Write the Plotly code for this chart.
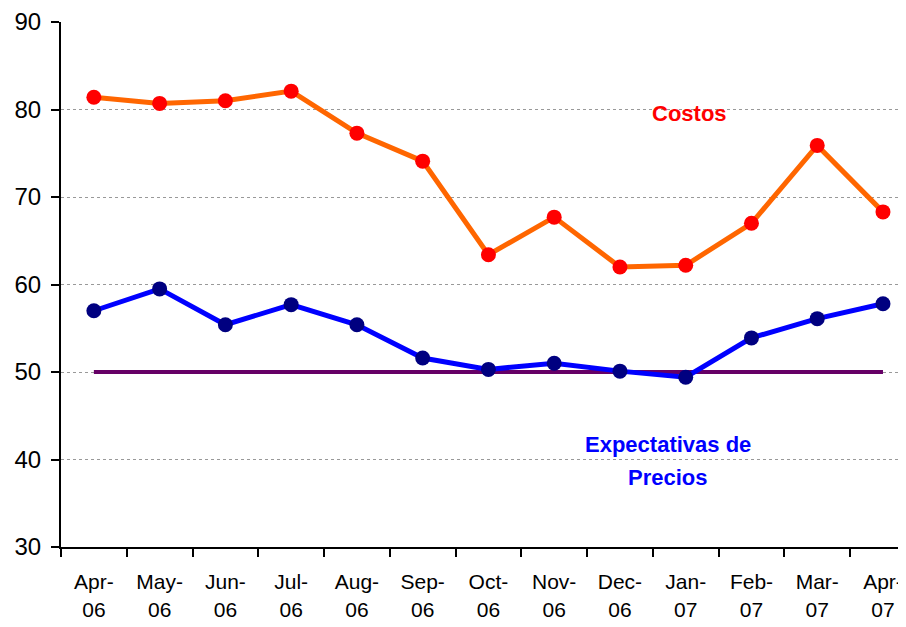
import plotly.graph_objects as go

months = ["Apr-<br>06", "May-<br>06", "Jun-<br>06", "Jul-<br>06", "Aug-<br>06", "Sep-<br>06",
          "Oct-<br>06", "Nov-<br>06", "Dec-<br>06", "Jan-<br>07", "Feb-<br>07", "Mar-<br>07", "Apr-<br>07"]
costos = [81.4, 80.7, 81.0, 82.1, 77.3, 74.1, 63.4, 67.7, 62.0, 62.2, 67.0, 75.9, 68.3]
expectativas = [57.0, 59.5, 55.4, 57.7, 55.4, 51.6, 50.3, 51.0, 50.1, 49.4, 53.9, 56.1, 57.8]
neutral = [50] * 13

fig = go.Figure()
fig.add_trace(go.Scatter(x=months, y=neutral, mode="lines",
                         line=dict(color="#660066", width=4), showlegend=False))
fig.add_trace(go.Scatter(x=months, y=costos, mode="lines+markers",
                         line=dict(color="#FF6600", width=5),
                         marker=dict(color="#FF0000", size=15, symbol="circle"),
                         showlegend=False))
fig.add_trace(go.Scatter(x=months, y=expectativas, mode="lines+markers",
                         line=dict(color="#0000FF", width=5),
                         marker=dict(color="#000080", size=15, symbol="circle"),
                         showlegend=False))

font_family = "Liberation Sans, Arial, sans-serif"

# the page body adds an 8px offset, so the figure is sized to compensate
fig.update_layout(
    width=898, height=619,
    margin=dict(l=53, r=0, t=14, b=80),
    paper_bgcolor="white", plot_bgcolor="white",
    font=dict(family=font_family, size=22, color="black"),
    xaxis=dict(
        type="category", categoryorder="array", categoryarray=months,
        range=[-0.5, 12.35], automargin=False,
        showgrid=False, zeroline=False,
        showline=True, linecolor="black", linewidth=2,
        ticks="outside", ticklen=8, tickwidth=1.5, tickcolor="black",
        tickson="boundaries", ticklabelstandoff=15,
        tickfont=dict(size=21),
    ),
    yaxis=dict(
        range=[30, 90], tickvals=[30, 40, 50, 60, 70, 80, 90], automargin=False,
        showgrid=True, gridcolor="#999999", griddash="dot", gridwidth=1,
        zeroline=False,
        showline=True, linecolor="black", linewidth=2,
        ticks="outside", ticklen=8, tickwidth=2, tickcolor="black",
        ticklabelstandoff=5,
        tickfont=dict(size=24),
    ),
    annotations=[
        dict(x=9.06, y=79.6, xref="x", yref="y", text="<b>Costos</b>", showarrow=False,
             font=dict(color="#FF0000", size=22, family=font_family)),
        dict(x=8.73, y=41.66, xref="x", yref="y", text="<b>Expectativas de</b>",
             showarrow=False,
             font=dict(color="#0000FF", size=22, family=font_family)),
        dict(x=8.73, y=37.9, xref="x", yref="y", text="<b>Precios</b>",
             showarrow=False,
             font=dict(color="#0000FF", size=22, family=font_family)),
    ],
)

fig.write_html("out.html")
